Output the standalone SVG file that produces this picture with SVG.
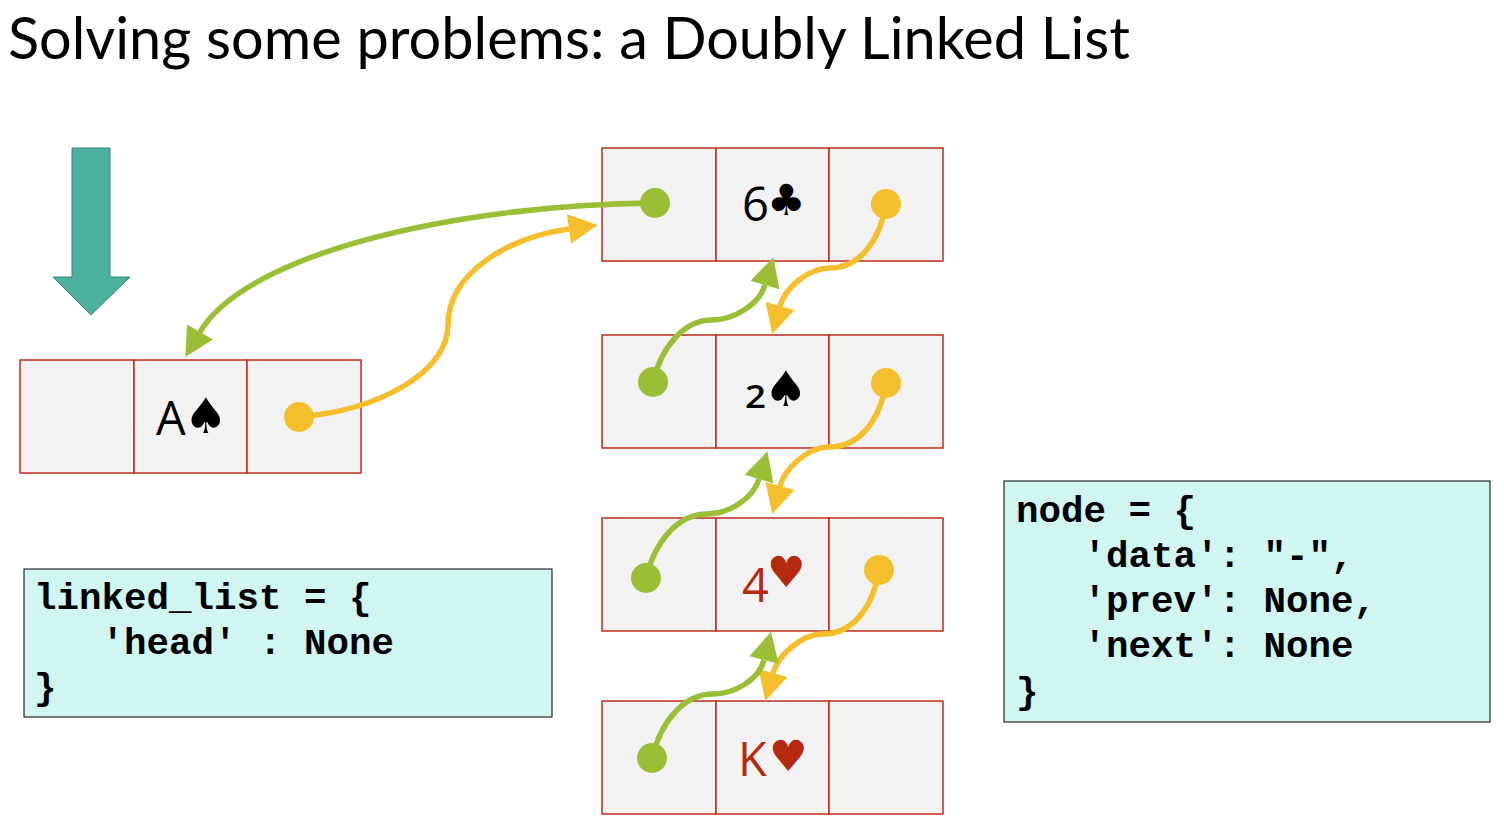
<svg xmlns="http://www.w3.org/2000/svg" width="1504" height="821" viewBox="0 0 1504 821">
<style>
.cell{fill:#f2f2f2;stroke:#bf2c1c;stroke-width:1.5}
.t{font-family:"Open Sans","Liberation Sans",sans-serif;font-size:47px;font-weight:500}
.s{font-family:"DejaVu Sans",sans-serif;font-size:49px}
.s2{font-family:"DejaVu Sans",sans-serif;font-size:43px}
.blk{fill:#000}.red{fill:#b5290e}
.code{font-family:"Liberation Mono","Courier New",monospace;font-weight:bold;font-size:37.5px;fill:#000;white-space:pre}
.box{fill:#d1f5f1;stroke:#000;stroke-width:1}
.g{fill:none;stroke:#9abf37;stroke-width:5.5}
.y{fill:none;stroke:#f4be2c;stroke-width:5.5}
.gd{fill:#9abf37}.yd{fill:#f4be2c}
</style>
<defs>
<marker id="ag" markerUnits="userSpaceOnUse" markerWidth="32" markerHeight="32" refX="0" refY="15" orient="auto" overflow="visible"><path d="M0,0 L29,15 L0,30 Z" fill="#9abf37"/></marker>
<marker id="ay" markerUnits="userSpaceOnUse" markerWidth="32" markerHeight="32" refX="0" refY="15" orient="auto" overflow="visible"><path d="M0,0 L29,15 L0,30 Z" fill="#f4be2c"/></marker>
</defs>
<rect width="1504" height="821" fill="#fff"/>
<text id="title" x="8" y="59" font-family="Lato,'Open Sans','Liberation Sans',sans-serif" font-size="58" fill="#000" textLength="1122" lengthAdjust="spacingAndGlyphs">Solving some problems: a Doubly Linked List</text>
<g id="head-arrow"><path d="M72,148H110V277H130L91,315L53,277H72Z" fill="#4bb09c" stroke="#35847a" stroke-width="1"/></g>
<g id="node-a">
<rect class="cell" x="20" y="360" width="114" height="113"/><rect class="cell" x="134" y="360" width="113" height="113"/><rect class="cell" x="247" y="360" width="114" height="113"/>
<text class="t blk" x="156" y="435">A</text><text class="s blk" x="184" y="433">♠</text></g>
<g id="node-6">
<rect class="cell" x="602" y="148" width="114" height="113"/><rect class="cell" x="716" y="148" width="113" height="113"/><rect class="cell" x="829" y="148" width="114" height="113"/>
<text class="t blk" x="742" y="221">6</text><text class="s2 blk" x="767" y="215">♣</text></g>
<g id="node-2">
<rect class="cell" x="602" y="335" width="114" height="113"/><rect class="cell" x="716" y="335" width="113" height="113"/><rect class="cell" x="829" y="335" width="114" height="113"/>
<text class="t blk" x="745" y="408" style="font-size:33px;font-weight:600" textLength="21" lengthAdjust="spacingAndGlyphs">2</text><text class="s blk" x="764" y="406">♠</text></g>
<g id="node-4">
<rect class="cell" x="602" y="518" width="114" height="113"/><rect class="cell" x="716" y="518" width="113" height="113"/><rect class="cell" x="829" y="518" width="114" height="113"/>
<text class="t red" x="742" y="602">4</text><text class="s2 red" x="767" y="587">♥</text></g>
<g id="node-k">
<rect class="cell" x="602" y="701" width="114" height="113"/><rect class="cell" x="716" y="701" width="113" height="113"/><rect class="cell" x="829" y="701" width="114" height="113"/>
<text class="t red" x="738" y="776">K</text><text class="s2 red" x="769" y="771">♥</text></g>
<g id="connectors">
<path class="y" marker-end="url(#ay)" d="M299,417C380,410 448,372 448,325C448,272 510,237 569,229"/>
<path class="y" marker-end="url(#ay)" d="M886,204C880,240 860,268 830,268C808,268 785,288 780,306"/>
<path class="y" marker-end="url(#ay)" d="M886,383C880,420 860,447 829,447C808,447 785,468 780,486"/>
<path class="y" marker-end="url(#ay)" d="M879,570C873,607 853,634 823,634C802,634 778,655 773,673"/>
<path class="g" marker-end="url(#ag)" d="M655,203C450,205 245,255 200,332"/>
<path class="g" marker-end="url(#ag)" d="M653,382C662,345 685,320 712,320C733,320 759,305 765,285"/>
<path class="g" marker-end="url(#ag)" d="M646,578C655,541 678,514 707,514C728,514 753,499 759,479"/>
<path class="g" marker-end="url(#ag)" d="M652,758C661,721 684,694 713,694C734,694 759,680 764,660"/>
<circle class="yd" cx="299" cy="417" r="15"/><circle class="yd" cx="886" cy="204" r="15"/><circle class="yd" cx="886" cy="383" r="15"/><circle class="yd" cx="879" cy="570" r="15"/>
<circle class="gd" cx="655" cy="203" r="15"/><circle class="gd" cx="653" cy="382" r="15"/><circle class="gd" cx="646" cy="578" r="15"/><circle class="gd" cx="652" cy="758" r="15"/>
</g>
<g id="linked-list-box"><rect class="box" x="24" y="569" width="528" height="148"/>
<text class="code" x="34" y="609">linked_list = {</text>
<text class="code" x="34" y="654" xml:space="preserve">   'head' : None</text>
<text class="code" x="34" y="699">}</text></g>
<g id="node-box"><rect class="box" x="1004" y="481" width="486" height="241"/>
<text class="code" x="1016" y="522">node = {</text>
<text class="code" x="1016" y="567" xml:space="preserve">   'data': "-",</text>
<text class="code" x="1016" y="612" xml:space="preserve">   'prev': None,</text>
<text class="code" x="1016" y="657" xml:space="preserve">   'next': None</text>
<text class="code" x="1016" y="703">}</text></g>
</svg>
